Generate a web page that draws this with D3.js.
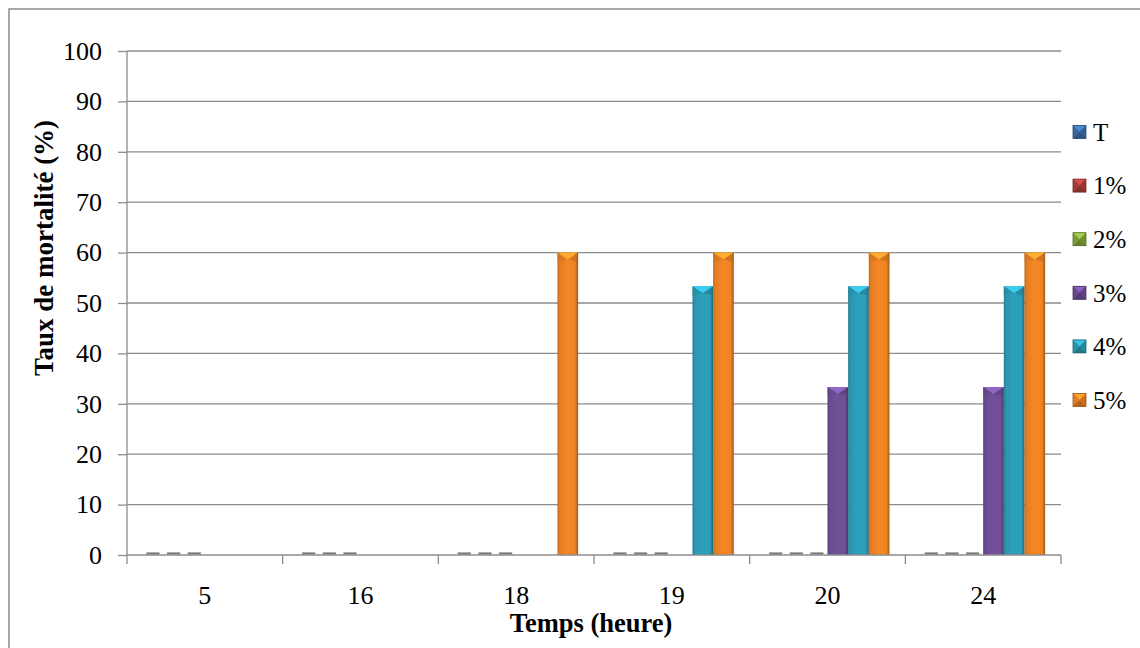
<!DOCTYPE html>
<html>
<head>
<meta charset="utf-8">
<script src="https://cdn.jsdelivr.net/npm/d3@7"></script>
<style>
html,body{margin:0;padding:0;background:#fff;}
svg{display:block;}
text{font-family:"Liberation Serif","Times New Roman",serif;}
</style>
</head>
<body>
<svg id="chart" width="1140" height="648"></svg>
<script>
const categories = ["5", "16", "18", "19", "20", "24"];
const seriesNames = ["T", "1%", "2%", "3%", "4%", "5%"];
const valuesT  = [0, 0, 0, 0, 0, 0];
const values1  = [0, 0, 0, 0, 0, 0];
const values2  = [0, 0, 0, 0, 0, 0];
const values3  = [null, null, null, null, 33.33, 33.33];
const values4  = [null, null, null, 53.33, 53.33, 53.33];
const values5  = [null, null, 60, 60, 60, 60];
const yTicks = [0, 10, 20, 30, 40, 50, 60, 70, 80, 90, 100];
const seriesColors = ["#3d70aa", "#b23e3a", "#86a83f", "#6f4f97", "#2d9db8", "#f08424"];
const allValues = [valuesT, values1, values2, values3, values4, values5];

const FONT = '"Liberation Serif","Times New Roman",serif';
const svg = d3.select("#chart");
const plot = {left: 127, right: 1061, top: 51, bottom: 555};

// outer border
svg.append("rect").attr("x", 9).attr("y", 9).attr("width", 1140).attr("height", 660)
  .attr("fill", "none").attr("stroke", "#8c8c8c").attr("stroke-width", 1.5);

const x0 = d3.scaleBand().domain(categories).range([plot.left, plot.right]).paddingInner(0).paddingOuter(0);
const x1 = d3.scaleBand().domain(seriesNames).range([0, x0.bandwidth()]).paddingOuter(0.77).paddingInner(0);
const y = d3.scaleLinear().domain([0, 100]).range([plot.bottom, plot.top]);

// defs: gradients
const defs = svg.append("defs");
seriesColors.forEach((c, i) => {
  const base = d3.color(c);
  const g = defs.append("linearGradient").attr("id", "g" + i).attr("x1", "0").attr("x2", "1").attr("y1", "0").attr("y2", "0");
  g.append("stop").attr("offset", "0").attr("stop-color", base.darker(0.7));
  g.append("stop").attr("offset", "0.1").attr("stop-color", base.darker(0.15));
  g.append("stop").attr("offset", "0.45").attr("stop-color", base.brighter(0.05));
  g.append("stop").attr("offset", "0.85").attr("stop-color", base);
  g.append("stop").attr("offset", "0.94").attr("stop-color", base.darker(0.6));
  g.append("stop").attr("offset", "1").attr("stop-color", base.darker(1.3));
});

// gridlines
svg.append("g").selectAll("line").data(yTicks.filter(d => d > 0)).join("line")
  .attr("x1", plot.left).attr("x2", plot.right)
  .attr("y1", d => y(d)).attr("y2", d => y(d))
  .attr("stroke", "#8c8c8c").attr("stroke-width", 1.3);

// y axis
const yAxis = svg.append("g").attr("transform", `translate(${plot.left},0)`)
  .call(d3.axisLeft(y).tickValues(yTicks).tickSize(9).tickPadding(16).tickFormat(d3.format("d")));
yAxis.attr("font-family", FONT).attr("font-size", 26);
yAxis.select(".domain").attr("stroke", "#8c8c8c").attr("stroke-width", 1.3).attr("d", `M0,${plot.top}V${plot.bottom}`);
yAxis.selectAll(".tick line").attr("stroke", "#8c8c8c").attr("stroke-width", 1.3);
yAxis.selectAll(".tick text").attr("fill", "#000");

// bars
const barsG = svg.append("g");
categories.forEach((cat, ci) => {
  seriesNames.forEach((s, si) => {
    const v = allValues[si][ci];
    if (v === null || v === undefined) return;
    const bx = x0(cat) + x1(s);
    const bw = x1.bandwidth();
    if (v === 0) {
      barsG.append("rect").attr("x", bx + 3.5).attr("y", plot.bottom - 2.6).attr("width", bw - 7.5).attr("height", 2.2)
        .attr("fill", "#7a7a7a");
      return;
    }
    const top = y(v);
    const base = d3.color(seriesColors[si]);
    barsG.append("rect").attr("x", bx).attr("y", top).attr("width", bw).attr("height", plot.bottom - top)
      .attr("fill", `url(#g${si})`);
    // top bevel triangle
    barsG.append("path")
      .attr("d", `M${bx},${top}L${bx + bw},${top}L${bx + bw / 2},${top + bw * 0.34}Z`)
      .attr("fill", base.brighter(0.75));
    barsG.append("path")
      .attr("d", `M${bx},${top}L${bx + bw / 2},${top + bw * 0.34}L${bx},${top + bw * 0.45}Z`)
      .attr("fill", base.darker(0.4)).attr("opacity", 0.5);
    barsG.append("path")
      .attr("d", `M${bx + bw},${top}L${bx + bw / 2},${top + bw * 0.34}L${bx + bw},${top + bw * 0.45}Z`)
      .attr("fill", base.darker(0.8)).attr("opacity", 0.5);
  });
});

// x axis
const xAxis = svg.append("g").attr("transform", `translate(0,${plot.bottom})`)
  .call(d3.axisBottom(x0).tickSize(0).tickPadding(31));
xAxis.attr("font-family", FONT).attr("font-size", 26);
xAxis.select(".domain").attr("stroke", "#8c8c8c").attr("stroke-width", 1.3).attr("d", `M${plot.left},0H${plot.right}`);
xAxis.selectAll(".tick text").attr("fill", "#000");
// boundary ticks
const bounds = categories.map(c => x0(c)).concat([plot.right]);
xAxis.selectAll(".bound").data(bounds).join("line").attr("class", "bound")
  .attr("x1", d => d).attr("x2", d => d).attr("y1", 0).attr("y2", 9)
  .attr("stroke", "#8c8c8c").attr("stroke-width", 1.3);

// axis titles
svg.append("text").attr("x", 591).attr("y", 632).attr("text-anchor", "middle")
  .attr("font-family", FONT).attr("font-size", 26.5).attr("font-weight", "bold").text("Temps (heure)");
svg.append("text").attr("transform", `translate(53,248) rotate(-90)`)
  .attr("text-anchor", "middle").attr("font-family", FONT).attr("font-size", 27).attr("font-weight", "bold")
  .text("Taux de mortalité (%)");

// legend
const legend = svg.append("g");
seriesNames.forEach((s, i) => {
  const cy = 132 + i * 53.6;
  const c = d3.color(seriesColors[i]);
  const mx = 1073, ms = 13, my = cy - ms / 2;
  const gm = legend.append("g");
  gm.append("rect").attr("x", mx).attr("y", my).attr("width", ms).attr("height", ms).attr("fill", c);
  gm.append("path").attr("d", `M${mx},${my}L${mx + ms},${my}L${mx + ms / 2},${my + ms / 2}Z`).attr("fill", c.brighter(0.6));
  gm.append("path").attr("d", `M${mx},${my + ms}L${mx + ms},${my + ms}L${mx + ms / 2},${my + ms / 2}Z`).attr("fill", c.darker(0.8));
  gm.append("path").attr("d", `M${mx},${my}L${mx},${my + ms}L${mx + ms / 2},${my + ms / 2}Z`).attr("fill", c.darker(0.2));
  gm.append("path").attr("d", `M${mx + ms},${my}L${mx + ms},${my + ms}L${mx + ms / 2},${my + ms / 2}Z`).attr("fill", c.darker(0.45));
  gm.append("rect").attr("x", mx).attr("y", my).attr("width", ms).attr("height", ms).attr("fill", "none")
    .attr("stroke", c.darker(1.2)).attr("stroke-width", 0.8);
  legend.append("text").attr("x", 1093).attr("y", cy).attr("dy", "0.35em")
    .attr("font-family", FONT).attr("font-size", 25).attr("fill", "#000").text(s);
});
</script>
</body>
</html>
